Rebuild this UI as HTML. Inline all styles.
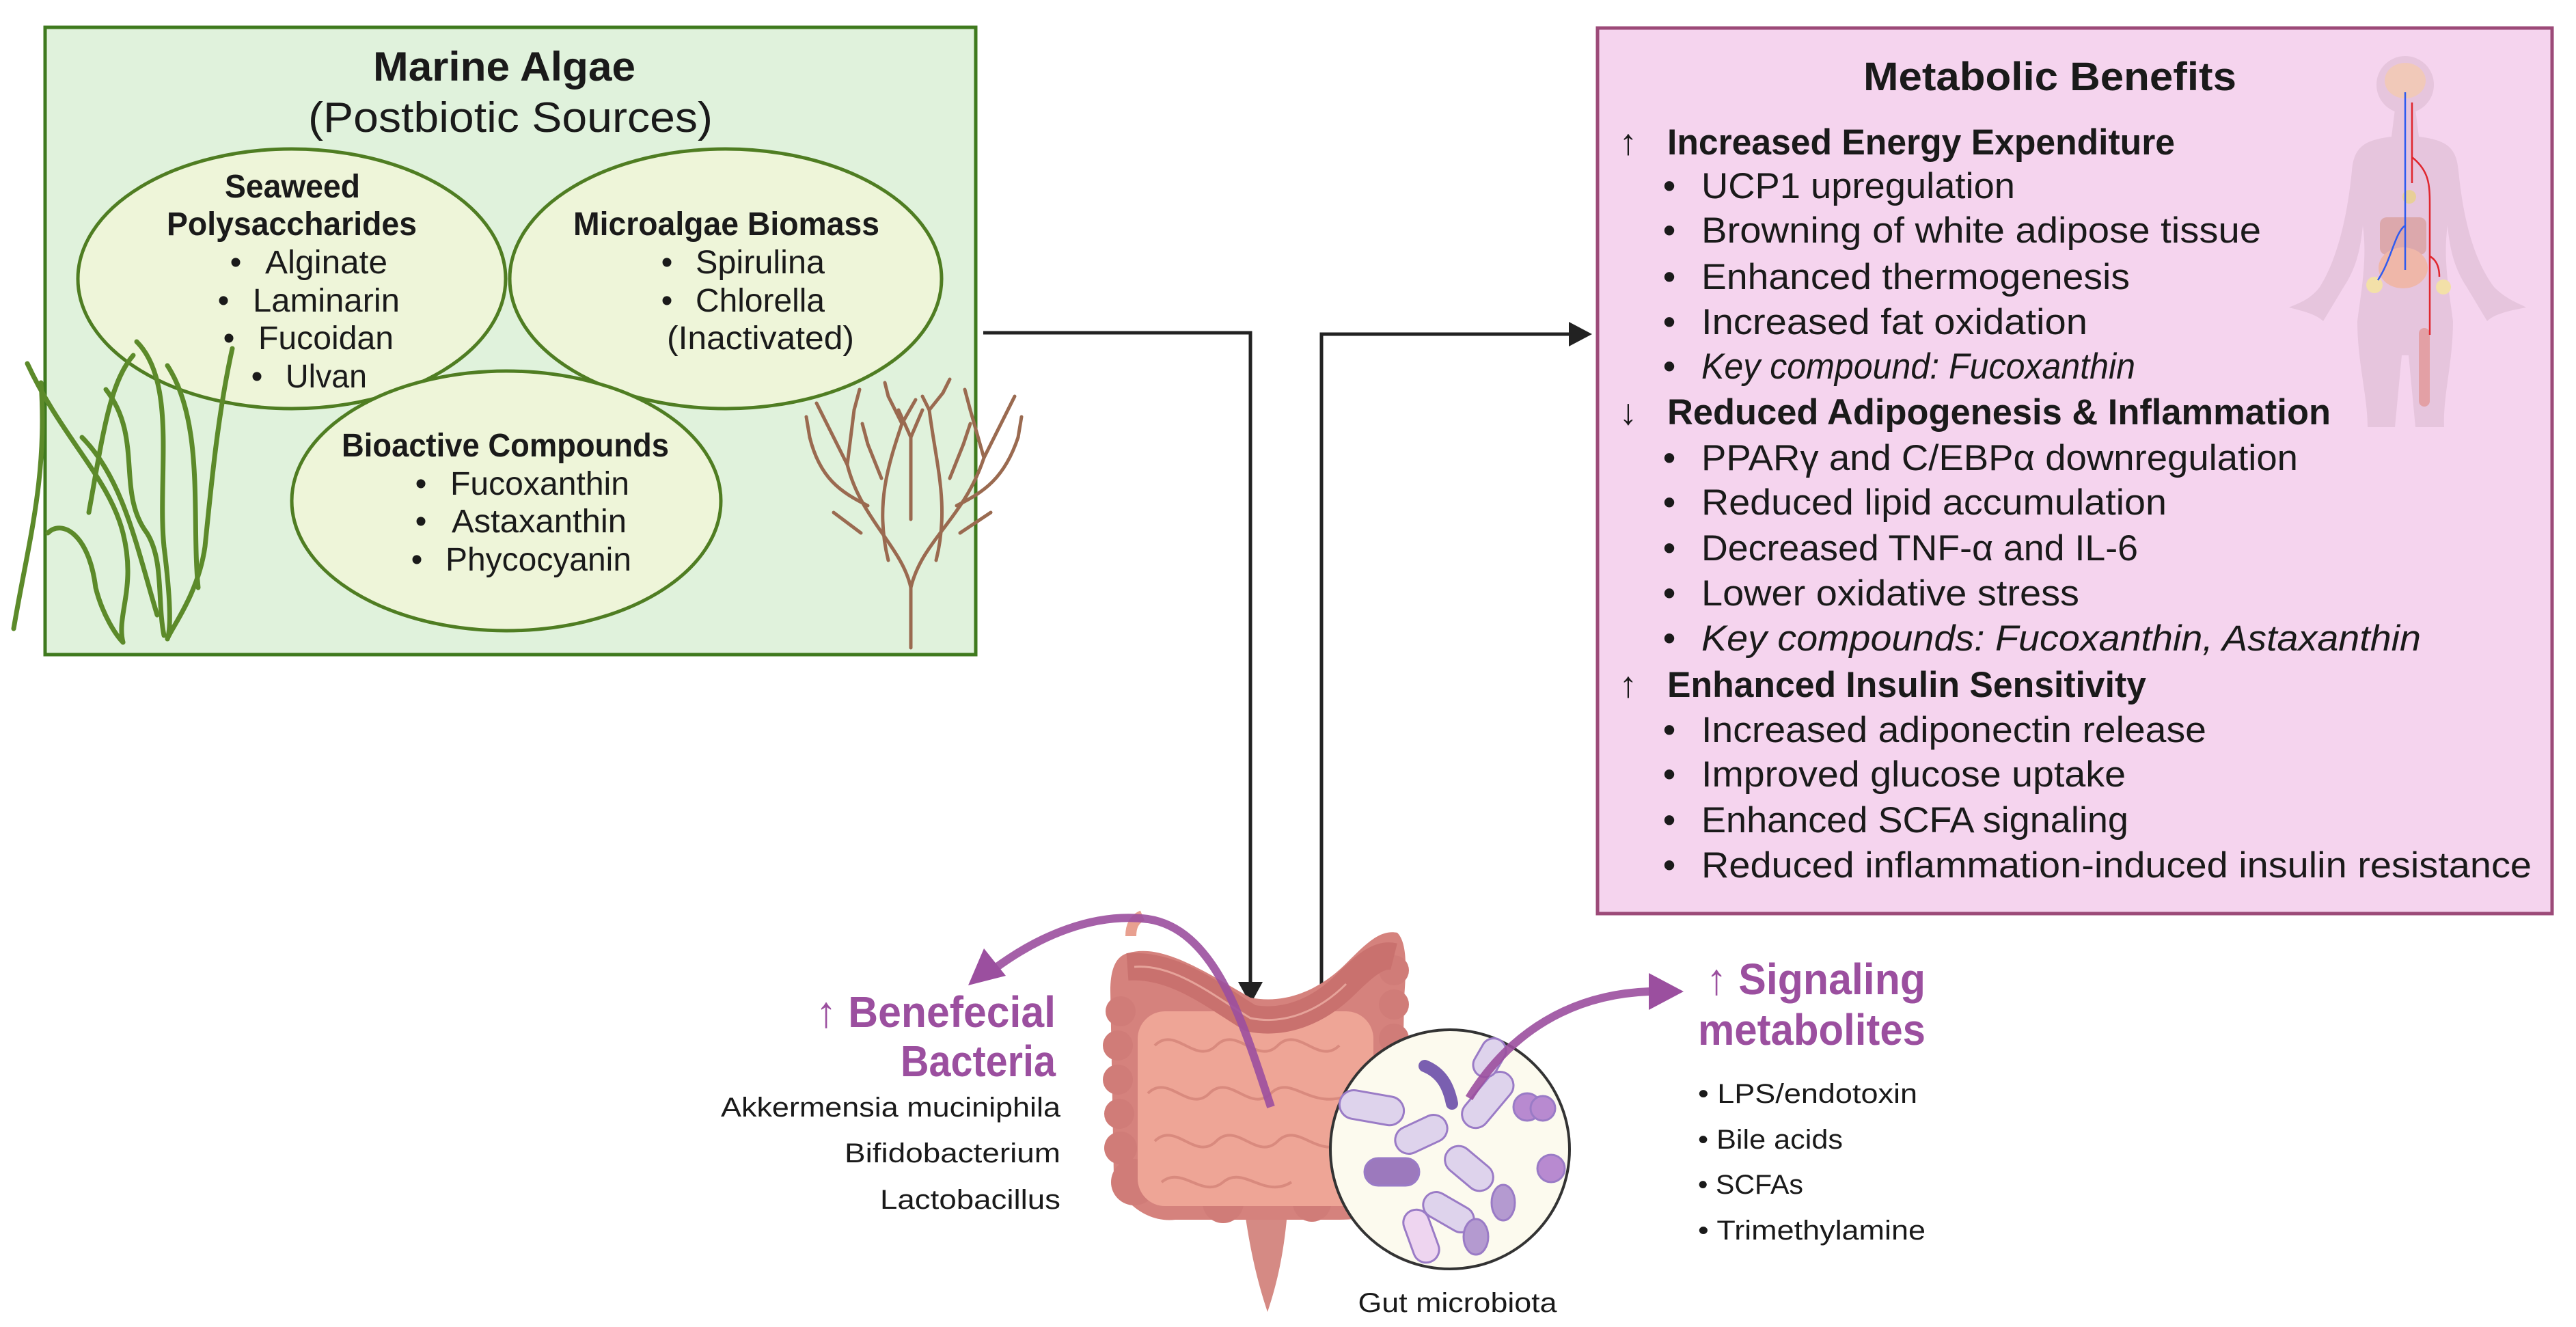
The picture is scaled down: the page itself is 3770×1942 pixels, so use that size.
<!DOCTYPE html>
<html><head><meta charset="utf-8"><style>
html,body{margin:0;padding:0;background:#fff;}
svg{display:block;}
text{font-family:"Liberation Sans",Arial,sans-serif;fill:#1a1a1a;}
</style></head><body>
<svg width="3770" height="1942" viewBox="0 0 3770 1942" xmlns="http://www.w3.org/2000/svg">

<!-- Green box -->
<rect x="66" y="40" width="1362" height="918" fill="#e0f2dc" stroke="#3f7a1e" stroke-width="5"/>
<text x="738" y="118" font-size="60" font-weight="bold" text-anchor="middle" textLength="384" lengthAdjust="spacingAndGlyphs">Marine Algae</text>
<text x="747" y="193" font-size="62" text-anchor="middle" textLength="592" lengthAdjust="spacingAndGlyphs">(Postbiotic Sources)</text>

<g fill="#eef5d9" stroke="#4f7d22" stroke-width="5">
<ellipse cx="427" cy="408" rx="313" ry="190"/>
<ellipse cx="1062" cy="408" rx="316" ry="190"/>
<ellipse cx="741" cy="733" rx="314" ry="190"/>
</g>

<!-- seaweed strands -->
<g fill="none" stroke="#5c8a2a" stroke-width="7" stroke-linecap="round">
<path d="M40 532 C90 640 160 700 180 780 C200 860 170 900 180 940"/>
<path d="M60 560 C70 700 40 800 20 920"/>
<path d="M195 520 C160 560 150 640 130 750"/>
<path d="M200 500 C260 560 230 700 240 800 C250 880 250 920 245 935"/>
<path d="M245 535 C300 620 280 760 290 860"/>
<path d="M340 510 C320 600 310 700 300 800 C290 870 250 920 245 935"/>
<path d="M70 780 C90 760 130 780 140 860 C150 900 170 930 180 940"/>
<path d="M155 570 C210 640 170 720 215 780 C240 820 230 880 240 930"/>
<path d="M120 640 C180 700 200 800 230 900"/>
</g>
<!-- brown coral -->
<g fill="none" stroke="#9a6a50" stroke-width="5" stroke-linecap="round">
<path d="M1333 948 L1333 860 C1320 800 1260 760 1240 680 M1333 860 C1350 790 1410 760 1440 670"/>
<path d="M1300 820 C1280 740 1300 680 1320 620 M1370 820 C1390 740 1370 680 1360 600"/>
<path d="M1240 680 L1210 620 M1240 680 L1250 600 M1440 670 L1470 610 M1440 670 L1420 600"/>
<path d="M1270 740 C1230 720 1200 700 1185 640 M1400 740 C1440 720 1470 700 1490 640"/>
<path d="M1320 620 L1300 580 M1320 620 L1340 585 M1360 600 L1380 575 M1360 600 L1350 580"/>
<path d="M1290 700 L1270 650 M1390 700 L1410 650 M1333 760 L1333 640"/>
<path d="M1210 620 L1195 590 M1250 600 L1258 570 M1470 610 L1485 580 M1420 600 L1412 570"/>
<path d="M1333 640 L1315 600 M1333 640 L1350 600 M1270 650 L1262 620 M1410 650 L1420 620 M1185 640 L1180 610 M1490 640 L1495 610"/>
<path d="M1260 780 L1220 750 M1405 780 L1450 750 M1300 580 L1295 560 M1380 575 L1390 555"/>
</g>

<g font-size="48">
<text x="428" y="289" font-weight="bold" text-anchor="middle" textLength="198" lengthAdjust="spacingAndGlyphs">Seaweed</text>
<text x="427" y="344" font-weight="bold" text-anchor="middle" textLength="366" lengthAdjust="spacingAndGlyphs">Polysaccharides</text>
<text x="345" y="400" text-anchor="middle">•</text><text x="388" y="400" textLength="179" lengthAdjust="spacingAndGlyphs">Alginate</text>
<text x="327" y="456" text-anchor="middle">•</text><text x="370" y="456" textLength="215" lengthAdjust="spacingAndGlyphs">Laminarin</text>
<text x="335" y="511" text-anchor="middle">•</text><text x="378" y="511" textLength="198" lengthAdjust="spacingAndGlyphs">Fucoidan</text>
<text x="376" y="567" text-anchor="middle">•</text><text x="418" y="567" textLength="119" lengthAdjust="spacingAndGlyphs">Ulvan</text>

<text x="839" y="344" font-weight="bold" textLength="448" lengthAdjust="spacingAndGlyphs">Microalgae Biomass</text>
<text x="976" y="400" text-anchor="middle">•</text><text x="1018" y="400" textLength="189" lengthAdjust="spacingAndGlyphs">Spirulina</text>
<text x="976" y="456" text-anchor="middle">•</text><text x="1018" y="456" textLength="189" lengthAdjust="spacingAndGlyphs">Chlorella</text>
<text x="976" y="511" textLength="274" lengthAdjust="spacingAndGlyphs">(Inactivated)</text>

<text x="500" y="668" font-weight="bold" textLength="479" lengthAdjust="spacingAndGlyphs">Bioactive Compounds</text>
<text x="616" y="724" text-anchor="middle">•</text><text x="659" y="724" textLength="262" lengthAdjust="spacingAndGlyphs">Fucoxanthin</text>
<text x="616" y="779" text-anchor="middle">•</text><text x="661" y="779" textLength="256" lengthAdjust="spacingAndGlyphs">Astaxanthin</text>
<text x="610" y="835" text-anchor="middle">•</text><text x="652" y="835" textLength="272" lengthAdjust="spacingAndGlyphs">Phycocyanin</text>
</g>

<!-- connectors -->
<path d="M1439 487 L1830 487 L1830 1440" fill="none" stroke="#222" stroke-width="5"/>
<polygon points="1812,1437 1848,1437 1830,1470" fill="#222"/>
<path d="M1934 1468 L1934 489 L2300 489" fill="none" stroke="#222" stroke-width="5"/>
<polygon points="2296,471 2296,507 2330,489" fill="#222"/>

<!-- Pink box -->
<rect x="2338" y="41" width="1397" height="1296" fill="#f5d4ee" stroke="#9c4a78" stroke-width="5"/>

<!-- human silhouette -->
<g>
<circle cx="3520" cy="124" r="42" fill="#e6c5dd"/>
<path d="M3505 160 L3535 160 L3540 200 C3580 205 3595 215 3598 250 C3605 320 3620 380 3650 420 C3670 440 3690 445 3697 450 C3670 455 3650 460 3640 470 L3610 420 C3590 390 3585 360 3582 330 C3575 380 3585 430 3590 470 C3590 530 3575 580 3577 625 L3535 625 L3525 520 L3515 520 L3505 625 L3465 625 C3465 580 3450 530 3450 470 C3455 430 3465 380 3458 330 C3455 360 3450 390 3430 420 L3400 470 C3390 460 3370 455 3350 450 C3360 445 3380 440 3395 420 C3420 380 3435 320 3442 250 C3445 215 3460 205 3500 200 Z" fill="#e6c5dd"/>
<ellipse cx="3520" cy="118" rx="30" ry="26" fill="#f1c9b9"/>
<rect x="3483" y="318" width="68" height="55" rx="10" fill="#d9a0a0" opacity="0.8"/>
<ellipse cx="3517" cy="392" rx="36" ry="30" fill="#efb7a9"/>
<rect x="3540" y="480" width="16" height="115" rx="8" fill="#e3a0a5"/>
<circle cx="3475" cy="417" r="12" fill="#f3e0a8"/>
<circle cx="3576" cy="420" r="11" fill="#f3e0a8"/>
<circle cx="3526" cy="288" r="10" fill="#e8cf98"/>
<path d="M3520 135 L3520 395 M3520 330 C3505 340 3500 380 3480 410" stroke="#2f5bf0" stroke-width="2.5" fill="none"/>
<path d="M3530 150 L3530 230 C3555 250 3556 270 3556 300 L3556 490 M3530 230 L3530 268 M3556 375 C3565 380 3570 390 3570 405" stroke="#e0262e" stroke-width="2.5" fill="none"/>
</g>

<text x="3000" y="132" font-size="58" font-weight="bold" text-anchor="middle" textLength="546" lengthAdjust="spacingAndGlyphs">Metabolic Benefits</text>
<g font-size="53">
<text x="2383" y="226" font-weight="bold" text-anchor="middle">↑</text>
<text x="2440" y="226" font-weight="bold" textLength="743" lengthAdjust="spacingAndGlyphs">Increased Energy Expenditure</text>
<text x="2443" y="290" text-anchor="middle">•</text><text x="2490" y="290" textLength="459" lengthAdjust="spacingAndGlyphs">UCP1 upregulation</text>
<text x="2443" y="355" text-anchor="middle">•</text><text x="2490" y="355" textLength="819" lengthAdjust="spacingAndGlyphs">Browning of white adipose tissue</text>
<text x="2443" y="423" text-anchor="middle">•</text><text x="2490" y="423" textLength="627" lengthAdjust="spacingAndGlyphs">Enhanced thermogenesis</text>
<text x="2443" y="489" text-anchor="middle">•</text><text x="2490" y="489" textLength="565" lengthAdjust="spacingAndGlyphs">Increased fat oxidation</text>
<text x="2443" y="554" text-anchor="middle">•</text><text x="2490" y="554" font-style="italic" textLength="635" lengthAdjust="spacingAndGlyphs">Key compound: Fucoxanthin</text>

<text x="2383" y="621" font-weight="bold" text-anchor="middle">↓</text>
<text x="2440" y="621" font-weight="bold" textLength="971" lengthAdjust="spacingAndGlyphs">Reduced Adipogenesis &amp; Inflammation</text>
<text x="2443" y="688" text-anchor="middle">•</text><text x="2490" y="688" textLength="873" lengthAdjust="spacingAndGlyphs">PPARγ and C/EBPα downregulation</text>
<text x="2443" y="753" text-anchor="middle">•</text><text x="2490" y="753" textLength="681" lengthAdjust="spacingAndGlyphs">Reduced lipid accumulation</text>
<text x="2443" y="820" text-anchor="middle">•</text><text x="2490" y="820" textLength="639" lengthAdjust="spacingAndGlyphs">Decreased TNF-α and IL-6</text>
<text x="2443" y="886" text-anchor="middle">•</text><text x="2490" y="886" textLength="553" lengthAdjust="spacingAndGlyphs">Lower oxidative stress</text>
<text x="2443" y="952" text-anchor="middle">•</text><text x="2490" y="952" font-style="italic" textLength="1053" lengthAdjust="spacingAndGlyphs">Key compounds: Fucoxanthin, Astaxanthin</text>

<text x="2383" y="1020" font-weight="bold" text-anchor="middle">↑</text>
<text x="2440" y="1020" font-weight="bold" textLength="701" lengthAdjust="spacingAndGlyphs">Enhanced Insulin Sensitivity</text>
<text x="2443" y="1086" text-anchor="middle">•</text><text x="2490" y="1086" textLength="739" lengthAdjust="spacingAndGlyphs">Increased adiponectin release</text>
<text x="2443" y="1151" text-anchor="middle">•</text><text x="2490" y="1151" textLength="621" lengthAdjust="spacingAndGlyphs">Improved glucose uptake</text>
<text x="2443" y="1218" text-anchor="middle">•</text><text x="2490" y="1218" textLength="625" lengthAdjust="spacingAndGlyphs">Enhanced SCFA signaling</text>
<text x="2443" y="1284" text-anchor="middle">•</text><text x="2490" y="1284" textLength="1215" lengthAdjust="spacingAndGlyphs">Reduced inflammation-induced insulin resistance</text>
</g>

<!-- Intestine -->
<g>
<path d="M1820 1760 C1830 1840 1845 1890 1855 1920 C1865 1890 1880 1840 1885 1760 Z" fill="#d58a84"/>
<path d="M1650 1395 C1700 1380 1760 1420 1830 1460 C1880 1470 1930 1450 1970 1410 C2000 1380 2020 1360 2045 1365 C2060 1380 2058 1420 2055 1460 L2050 1740 C2040 1775 2000 1785 1960 1785 L1720 1785 C1680 1790 1640 1760 1630 1720 L1625 1450 C1625 1420 1632 1400 1650 1395 Z" fill="#d5827d"/>
<g fill="#d07c78">
<circle cx="1640" cy="1480" r="22"/><circle cx="1636" cy="1530" r="22"/><circle cx="1636" cy="1580" r="22"/><circle cx="1638" cy="1630" r="22"/><circle cx="1640" cy="1680" r="24"/><circle cx="1660" cy="1730" r="34"/>
<circle cx="2040" cy="1420" r="22"/><circle cx="2040" cy="1470" r="22"/><circle cx="2040" cy="1520" r="22"/><circle cx="2040" cy="1570" r="22"/><circle cx="2038" cy="1620" r="22"/><circle cx="2030" cy="1700" r="30"/>
<circle cx="1790" cy="1760" r="30"/><circle cx="1920" cy="1760" r="28"/>
</g>
<rect x="1665" y="1480" width="345" height="285" rx="40" fill="#eea596"/>
<g fill="none" stroke="#d98a7e" stroke-width="4">
<path d="M1690 1530 C1720 1500 1750 1560 1780 1530 C1810 1500 1840 1560 1870 1530 C1900 1500 1930 1560 1960 1530"/>
<path d="M1680 1600 C1710 1570 1740 1630 1770 1600 C1800 1570 1830 1630 1860 1600 C1890 1570 1920 1630 1980 1600"/>
<path d="M1690 1670 C1720 1640 1750 1700 1780 1670 C1810 1640 1840 1700 1870 1670 C1900 1640 1930 1700 1970 1670"/>
<path d="M1700 1730 C1730 1705 1760 1755 1790 1730 C1820 1705 1850 1755 1890 1730"/>
</g>
<path d="M1650 1415 C1720 1410 1780 1460 1830 1490 C1880 1500 1930 1480 1970 1440 C2000 1410 2020 1395 2040 1400" fill="none" stroke="#c9716e" stroke-width="40"/>
<path d="M1660 1415 C1720 1410 1780 1460 1830 1490 C1880 1500 1930 1480 1970 1440" fill="none" stroke="#e6a39a" stroke-width="3"/>
<path d="M1655 1370 C1655 1355 1660 1345 1672 1340" stroke="#e8a090" stroke-width="16" fill="none"/>
</g>

<!-- microbiota circle -->
<circle cx="2122" cy="1682" r="175" fill="#fcfaee" stroke="#333" stroke-width="4"/>
<g stroke="#9a7bc6" stroke-width="3">
<rect x="1960" y="1600" width="95" height="42" rx="21" fill="#ded3ec" transform="rotate(10 2007 1621)"/>
<rect x="2040" y="1640" width="80" height="40" rx="20" fill="#ded3ec" transform="rotate(-25 2080 1660)"/>
<rect x="2130" y="1590" width="95" height="40" rx="20" fill="#ded3ec" transform="rotate(-50 2177 1610)"/>
<rect x="2110" y="1690" width="80" height="40" rx="20" fill="#ded3ec" transform="rotate(40 2150 1710)"/>
<rect x="1997" y="1695" width="80" height="40" rx="20" fill="#9c79bd"/>
<rect x="2080" y="1755" width="80" height="38" rx="19" fill="#ded3ec" transform="rotate(30 2120 1774)"/>
<rect x="2040" y="1790" width="80" height="38" rx="19" fill="#eed5f0" transform="rotate(70 2080 1809)"/>
<rect x="2150" y="1530" width="60" height="36" rx="18" fill="#ded3ec" transform="rotate(-60 2180 1548)"/>
<path d="M2085 1560 C2110 1570 2120 1590 2125 1615" fill="none" stroke="#7a5fb0" stroke-width="18" stroke-linecap="round"/>
<circle cx="2235" cy="1620" r="20" fill="#b88ad0"/>
<circle cx="2258" cy="1622" r="18" fill="#b88ad0"/>
<circle cx="2270" cy="1710" r="20" fill="#b88ad0"/>
<ellipse cx="2200" cy="1760" rx="17" ry="26" fill="#b49ad0"/>
<ellipse cx="2160" cy="1810" rx="18" ry="26" fill="#b49ad0"/>
</g>
<text x="2133" y="1920" font-size="40" text-anchor="middle" textLength="291" lengthAdjust="spacingAndGlyphs">Gut microbiota</text>

<!-- purple arrows -->
<path d="M1860 1620 C1820 1500 1780 1360 1680 1345 C1600 1335 1520 1370 1455 1418" fill="none" stroke="#9b4f9f" stroke-width="12" opacity="0.9"/>
<polygon points="1417,1442 1440,1388 1472,1428" fill="#9b4f9f"/>
<path d="M2150 1607 C2210 1510 2300 1455 2415 1451" fill="none" stroke="#9b4f9f" stroke-width="12" opacity="0.9"/>
<polygon points="2413,1424 2464,1451 2413,1478" fill="#9b4f9f"/>

<g font-weight="bold" font-size="64">
<text x="1545" y="1503" text-anchor="end" fill="#9b4f9f" style="fill:#9b4f9f" textLength="351" lengthAdjust="spacingAndGlyphs">↑ Benefecial</text>
<text x="1545" y="1575" text-anchor="end" style="fill:#9b4f9f" textLength="227" lengthAdjust="spacingAndGlyphs">Bacteria</text>
<text x="2497" y="1455" style="fill:#9b4f9f" textLength="321" lengthAdjust="spacingAndGlyphs">↑ Signaling</text>
<text x="2485" y="1529" style="fill:#9b4f9f" textLength="333" lengthAdjust="spacingAndGlyphs">metabolites</text>
</g>
<g font-size="40">
<text x="1552" y="1634" text-anchor="end" textLength="497" lengthAdjust="spacingAndGlyphs">Akkermensia muciniphila</text>
<text x="1552" y="1701" text-anchor="end" textLength="316" lengthAdjust="spacingAndGlyphs">Bifidobacterium</text>
<text x="1552" y="1769" text-anchor="end" textLength="264" lengthAdjust="spacingAndGlyphs">Lactobacillus</text>
<text x="2485" y="1614" textLength="321" lengthAdjust="spacingAndGlyphs">• LPS/endotoxin</text>
<text x="2485" y="1681" textLength="212" lengthAdjust="spacingAndGlyphs">• Bile acids</text>
<text x="2485" y="1747" textLength="154" lengthAdjust="spacingAndGlyphs">• SCFAs</text>
<text x="2485" y="1814" textLength="333" lengthAdjust="spacingAndGlyphs">• Trimethylamine</text>
</g>
</svg>
</body></html>
